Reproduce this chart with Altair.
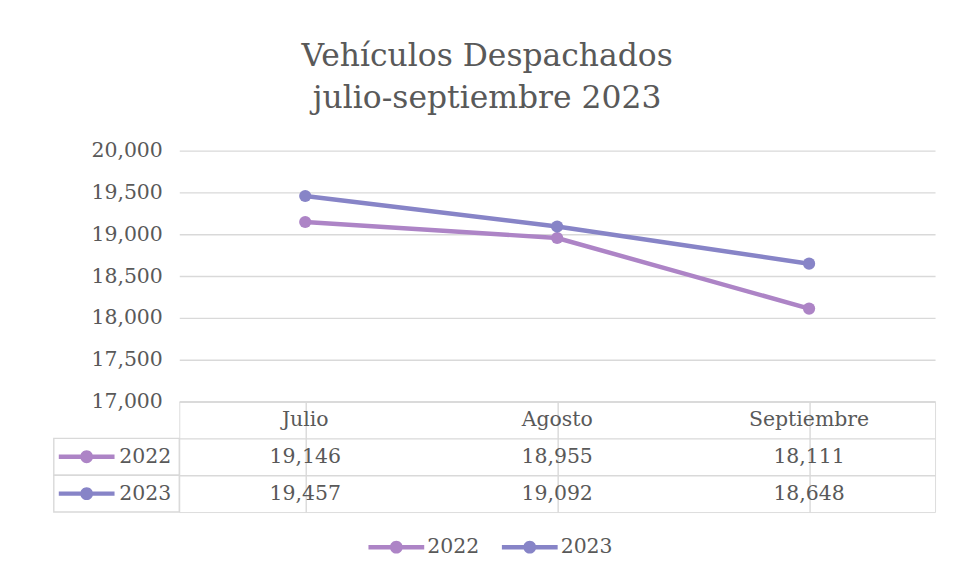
import altair as alt
import pandas as pd

months = ["Julio", "Agosto", "Septiembre"]
years = ["2022", "2023"]
values_2022 = [19146, 18955, 18111]
values_2023 = [19457, 19092, 18648]
y_ticks = [17000, 17500, 18000, 18500, 19000, 19500, 20000]
colors = ["#AD84C6", "#8784C7"]
title_lines = ["Vehículos Despachados", "julio-septiembre 2023"]
header_row = "Mes"

GRID = "#D9D9D9"
TXT = "#595959"
FONT = "DejaVu Serif"
FS = 20.5
SYMBOL = ("M-1,-0.08H1V0.08H-1Z "
          "M-0.23,0A0.23,0.23 0 1,1 0.23,0A0.23,0.23 0 1,1 -0.23,0Z")
SYM_SIZE = 3136

rows = []
for yr, vals in zip(years, [values_2022, values_2023]):
    for m, v in zip(months, vals):
        rows.append({"mes": m, "anio": yr, "valor": v, "fila": yr, "texto": f"{v:,}"})
df = pd.DataFrame(rows)

table_df = pd.concat([
    pd.DataFrame({"mes": months, "fila": header_row, "texto": months}),
    df[["mes", "fila", "texto"]],
], ignore_index=True)
side_df = pd.DataFrame({"fila": years, "anio": years})

color_scale = alt.Scale(domain=years, range=colors)
legend = alt.Legend(
    title=None, orient="none", direction="horizontal", legendX=190, legendY=370,
    symbolType=SYMBOL, symbolSize=SYM_SIZE, symbolStrokeWidth=0,
    labelFontSize=FS, labelColor=TXT, labelFont=FONT, labelOffset=3, columnPadding=22,
)

# ---- top: line chart ----
x_top = alt.X("mes:N", sort=months, scale=alt.Scale(type="point", padding=0.5, domain=months), axis=None)
y_top = alt.Y(
    "valor:Q",
    scale=alt.Scale(domain=[17000, 20000], nice=False, zero=False),
    axis=alt.Axis(values=y_ticks, format=",.0f", title=None, domain=False, ticks=False,
                  grid=True, gridColor=GRID, gridWidth=1.4, labelPadding=17,
                  labelFontSize=FS, labelColor=TXT, labelFont=FONT),
)
color = alt.Color("anio:N", scale=color_scale, legend=legend)

line = alt.Chart(df).mark_line(strokeWidth=4.5).encode(x=x_top, y=y_top, color=color)
pts = alt.Chart(df).mark_point(filled=True, size=150, opacity=1).encode(x=x_top, y=y_top, color=color)
top = alt.layer(line, pts).properties(width=759, height=252, view={"stroke": "transparent"})

# ---- bottom: data table ----
x_tab = alt.X("mes:N", sort=months,
              scale=alt.Scale(domain=months, paddingInner=0, paddingOuter=0),
              axis=alt.Axis(labels=False, ticks=False, domain=False, grid=True, gridColor=GRID,
                            gridWidth=1.4, bandPosition=0, title=None))
y_tab = alt.Y("fila:N",
              scale=alt.Scale(domain=[header_row] + years, paddingInner=0, paddingOuter=0),
              axis=alt.Axis(labels=False, ticks=False, domain=False, grid=True, gridColor=GRID,
                            gridWidth=1.4, bandPosition=0, title=None))

cells = alt.Chart(table_df).mark_text(fontSize=FS, color=TXT, font=FONT).encode(
    x=x_tab, y=y_tab, text="texto:N")
side_box = alt.Chart(side_df).mark_rect(fill="transparent", stroke=GRID, strokeWidth=1.4).encode(
    x=alt.value(-126), x2=alt.value(0), y=y_tab)
side_sym = alt.Chart(side_df).mark_point(shape=SYMBOL, size=SYM_SIZE, filled=True, opacity=1,
                                         strokeWidth=0).encode(
    x=alt.value(-93), y=y_tab, color=alt.Color("anio:N", scale=color_scale, legend=legend))
side_txt = alt.Chart(side_df).mark_text(align="right", fontSize=FS, color=TXT, font=FONT).encode(
    x=alt.value(-8), y=y_tab, text="anio:N")

table = alt.layer(cells, side_box, side_sym, side_txt).properties(width=759, height=111)

chart = alt.vconcat(top, table, spacing=0, bounds="flush").properties(
    title=alt.TitleParams(text=title_lines, fontSize=31.5, color=TXT, font=FONT,
                          fontWeight="normal", anchor="middle", lineHeight=42, offset=26, dx=-7),
    padding={"left": 44, "top": 32, "right": 10, "bottom": 10},
).configure_view(stroke=GRID, strokeWidth=1.4).configure(font=FONT)

chart.save("out.html", embed_options={"renderer": "svg", "actions": False})
